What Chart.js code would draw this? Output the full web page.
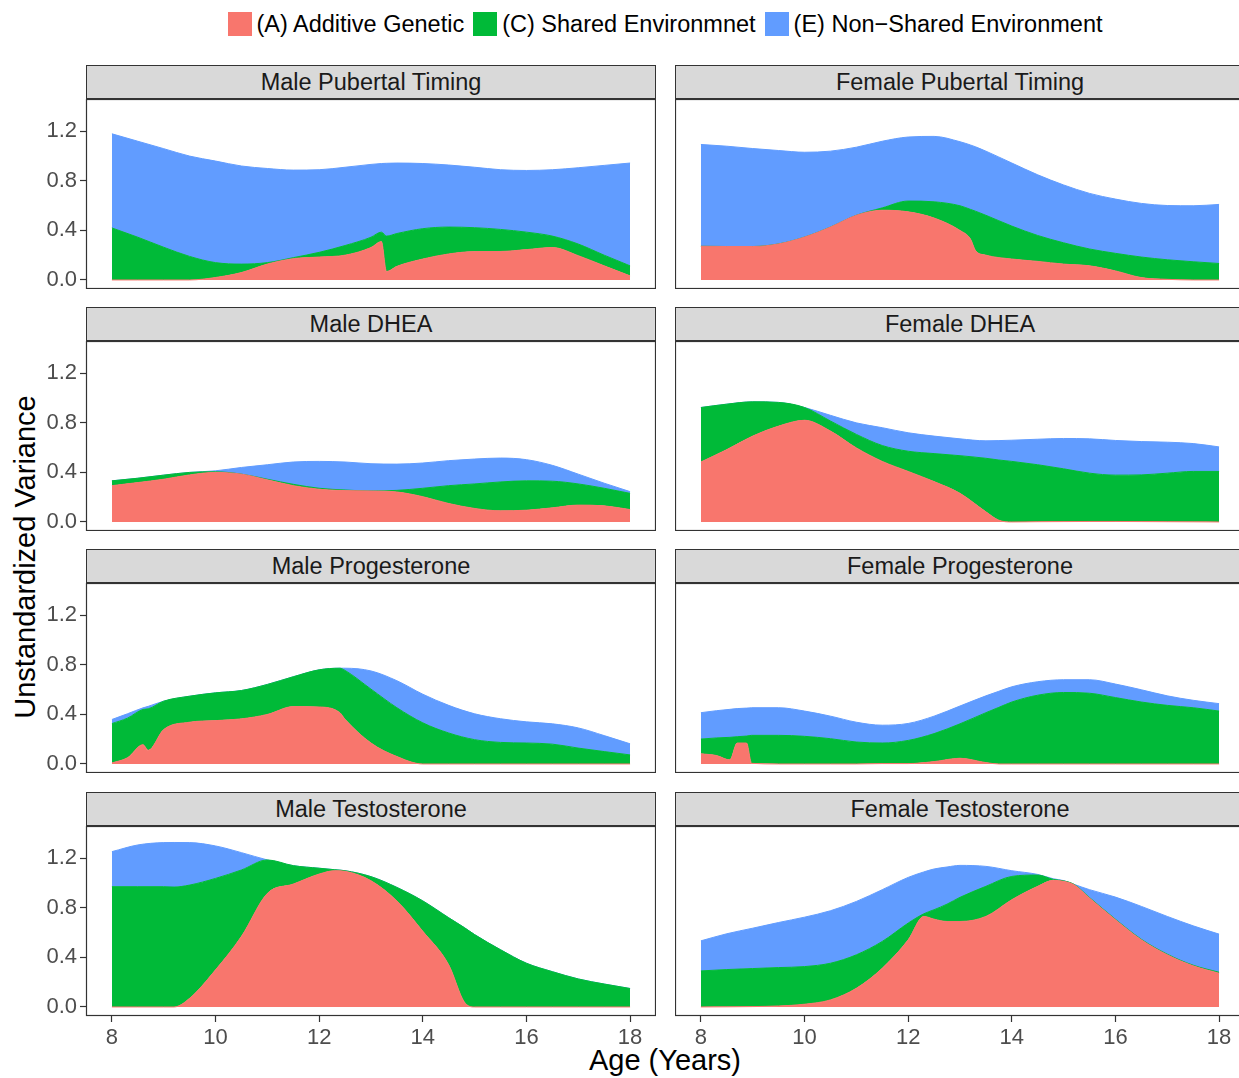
<!DOCTYPE html>
<html>
<head>
<meta charset="utf-8">
<script src="https://cdn.jsdelivr.net/npm/chart.js@4.4.1/dist/chart.umd.min.js"></script>
<style>
  body { margin: 0; width: 1239px; height: 1078px; overflow: hidden; background: #fff; position: relative;
         font-family: "Liberation Sans", Arial, Helvetica, sans-serif; }
  .box { position: absolute; }
  .strip { position: absolute; box-sizing: border-box; height: 34px; background: #d9d9d9; border: 1px solid #333;
           color: #1a1a1a; font-size: 23.5px; line-height: 32px; text-align: center; white-space: nowrap; overflow: hidden; }
  #legend { position: absolute; left: 0; top: 12px; width: 1339px; height: 24px; display: flex;
            justify-content: center; align-items: center; font-size: 23.5px; color: #000; white-space: nowrap; }
  #legend .key { width: 24px; height: 24px; margin-right: 5px; }
  #legend .lab { margin-right: 9px; }
  .title { position: absolute; font-size: 29px; color: #000; white-space: nowrap; }
</style>
</head>
<body>
<div id="legend"></div>
<div class="title" id="ytitle">Unstandardized Variance</div>
<div class="title" id="xtitle">Age (Years)</div>
<script>
// ---- data: variance components by age (A = additive genetic, C = shared env., E = non-shared env.)
const ages_malePT = [8, 8.5, 9, 9.5, 10, 10.5, 11, 11.5, 12, 12.5, 13, 13.2, 13.3, 13.5, 14, 14.5, 15, 15.5, 16, 16.5, 17, 17.5, 18];
const A_malePT = [0, 0, 0, 0, 0.02, 0.06, 0.128, 0.172, 0.185, 0.2, 0.262, 0.31, 0.068, 0.11, 0.169, 0.21, 0.229, 0.23, 0.245, 0.262, 0.196, 0.114, 0.033];
const C_malePT = [0.42, 0.345, 0.264, 0.19, 0.12, 0.068, 0.012, 0.008, 0.038, 0.078, 0.083, 0.076, 0.286, 0.265, 0.245, 0.217, 0.193, 0.178, 0.141, 0.092, 0.094, 0.086, 0.081];
const E_malePT = [0.76, 0.775, 0.796, 0.81, 0.82, 0.792, 0.76, 0.707, 0.667, 0.632, 0.588, 0.554, 0.588, 0.569, 0.526, 0.501, 0.488, 0.482, 0.498, 0.536, 0.616, 0.725, 0.83];

const ages_femalePT = [8, 8.5, 9, 9.5, 10, 10.5, 11, 11.5, 12, 12.5, 13, 13.2, 13.3, 13.5, 14, 14.5, 15, 15.5, 16, 16.5, 17, 17.5, 18];
const A_femalePT = [0.272, 0.27, 0.27, 0.291, 0.346, 0.427, 0.522, 0.563, 0.55, 0.5, 0.4, 0.332, 0.237, 0.2, 0.169, 0.15, 0.128, 0.114, 0.073, 0.019, 0.005, 0, 0];
const C_femalePT = [0, 0, 0, 0, 0, 0, 0, 0.019, 0.087, 0.131, 0.199, 0.238, 0.318, 0.322, 0.266, 0.209, 0.172, 0.136, 0.142, 0.166, 0.158, 0.147, 0.133];
const E_femalePT = [0.822, 0.81, 0.791, 0.754, 0.685, 0.613, 0.55, 0.538, 0.517, 0.528, 0.517, 0.52, 0.52, 0.518, 0.509, 0.49, 0.467, 0.449, 0.438, 0.433, 0.438, 0.452, 0.477];

const ages_maleDHEA = [8, 8.5, 9, 9.5, 10, 10.5, 11, 11.5, 12, 12.5, 13, 13.5, 14, 14.5, 15, 15.5, 16, 16.5, 17, 17.5, 18];
const A_maleDHEA = [0.293, 0.318, 0.345, 0.38, 0.4, 0.386, 0.34, 0.293, 0.264, 0.253, 0.25, 0.242, 0.204, 0.149, 0.109, 0.09, 0.095, 0.114, 0.136, 0.13, 0.1];
const C_maleDHEA = [0.039, 0.035, 0.033, 0.02, 0.005, 0, 0.005, 0.011, 0.008, 0.005, 0, 0.013, 0.068, 0.144, 0.198, 0.233, 0.237, 0.215, 0.171, 0.142, 0.131];
const E_maleDHEA = [0, 0, 0, 0, 0.008, 0.054, 0.117, 0.18, 0.217, 0.226, 0.22, 0.212, 0.204, 0.202, 0.201, 0.193, 0.171, 0.128, 0.079, 0.041, 0.014];

const ages_femaleDHEA = [8, 8.5, 9, 9.5, 10, 10.5, 11, 11.5, 12, 12.5, 13, 13.5, 13.75, 14, 14.5, 15, 15.5, 16, 16.5, 17, 17.5, 18];
const A_femaleDHEA = [0.484, 0.584, 0.693, 0.774, 0.821, 0.734, 0.598, 0.489, 0.408, 0.326, 0.231, 0.082, 0.014, 0, 0.002, 0.003, 0.004, 0.004, 0.003, 0.002, 0.001, 0];
const C_femaleDHEA = [0.44, 0.367, 0.277, 0.191, 0.103, 0.081, 0.109, 0.128, 0.163, 0.226, 0.304, 0.432, 0.486, 0.489, 0.46, 0.426, 0.39, 0.374, 0.377, 0.392, 0.407, 0.408];
const E_femaleDHEA = [0, 0, 0, 0, 0, 0.046, 0.093, 0.144, 0.149, 0.141, 0.136, 0.141, 0.157, 0.171, 0.206, 0.245, 0.277, 0.28, 0.269, 0.25, 0.225, 0.198];

const ages_maleProg = [8, 8.3, 8.6, 8.7, 9, 9.5, 10, 10.5, 11, 11.5, 12, 12.4, 12.5, 13, 13.5, 14, 14.5, 15, 15.5, 16, 16.5, 17, 17.5, 18];
const A_maleProg = [0.008, 0.05, 0.156, 0.11, 0.278, 0.337, 0.35, 0.364, 0.4, 0.463, 0.46, 0.414, 0.36, 0.169, 0.06, 0, 0, 0, 0, 0, 0, 0, 0, 0];
const C_maleProg = [0.318, 0.32, 0.284, 0.335, 0.229, 0.21, 0.224, 0.229, 0.242, 0.241, 0.3, 0.359, 0.395, 0.435, 0.394, 0.332, 0.25, 0.196, 0.174, 0.169, 0.16, 0.128, 0.1, 0.073];
const E_maleProg = [0.033, 0.035, 0.013, 0.02, 0, 0, 0, 0, 0, 0, 0, 0, 0.018, 0.147, 0.218, 0.231, 0.223, 0.209, 0.191, 0.171, 0.164, 0.163, 0.129, 0.09];

const ages_femaleProg = [8, 8.3, 8.56, 8.7, 8.88, 8.98, 9.5, 10, 10.5, 11, 11.5, 12, 12.5, 13, 13.5, 13.75, 14, 14.5, 15, 15.5, 16, 16.5, 17, 17.5, 18];
const A_femaleProg = [0.082, 0.068, 0.033, 0.169, 0.169, 0.005, 0, 0, 0, 0, 0.003, 0.003, 0.019, 0.046, 0.011, 0, 0, 0, 0, 0, 0, 0, 0, 0, 0];
const C_femaleProg = [0.119, 0.142, 0.182, 0.051, 0.056, 0.226, 0.231, 0.223, 0.204, 0.177, 0.166, 0.187, 0.226, 0.278, 0.403, 0.457, 0.5, 0.555, 0.577, 0.571, 0.536, 0.5, 0.473, 0.454, 0.427];
const E_femaleProg = [0.213, 0.22, 0.226, 0.227, 0.226, 0.223, 0.223, 0.204, 0.182, 0.16, 0.144, 0.137, 0.141, 0.144, 0.136, 0.13, 0.123, 0.109, 0.103, 0.109, 0.109, 0.099, 0.077, 0.06, 0.06];

const ages_maleTest = [8, 8.5, 9, 9.2, 9.5, 10, 10.5, 11, 11.5, 12, 12.3, 12.5, 13, 13.5, 14, 14.5, 14.8, 15, 15.5, 16, 16.5, 17, 17.5, 18];
const A_maleTest = [0, 0, 0, 0, 0.07, 0.3, 0.57, 0.917, 0.992, 1.073, 1.1, 1.095, 1.019, 0.856, 0.611, 0.34, 0.041, 0, 0, 0, 0, 0, 0, 0];
const C_maleTest = [0.971, 0.971, 0.971, 0.968, 0.914, 0.738, 0.536, 0.27, 0.149, 0.047, 0.008, 0.005, 0.033, 0.109, 0.245, 0.38, 0.6, 0.584, 0.462, 0.353, 0.285, 0.226, 0.185, 0.149];
const E_maleTest = [0.283, 0.337, 0.356, 0.36, 0.343, 0.262, 0.14, 0, 0, 0, 0, 0, 0, 0, 0, 0, 0, 0, 0, 0, 0, 0, 0, 0];

const ages_femaleTest = [8, 8.5, 9, 9.5, 10, 10.5, 11, 11.5, 12, 12.3, 12.5, 12.75, 13, 13.5, 14, 14.5, 14.8, 15, 15.2, 15.5, 16, 16.5, 17, 17.5, 18];
const A_femaleTest = [0, 0.001, 0.003, 0.008, 0.022, 0.057, 0.151, 0.313, 0.542, 0.731, 0.709, 0.69, 0.69, 0.731, 0.866, 0.974, 1.022, 1.014, 0.987, 0.879, 0.704, 0.542, 0.421, 0.332, 0.272];
const C_femaleTest = [0.291, 0.301, 0.307, 0.31, 0.304, 0.296, 0.27, 0.216, 0.135, 0.021, 0.076, 0.14, 0.195, 0.243, 0.188, 0.091, 0.008, 0.004, 0.003, 0.004, 0.004, 0.004, 0.005, 0.005, 0.008];
const E_femaleTest = [0.243, 0.289, 0.326, 0.364, 0.399, 0.424, 0.431, 0.418, 0.369, 0.338, 0.329, 0.3, 0.258, 0.161, 0.046, 0.005, 0.005, 0.002, 0, 0.064, 0.179, 0.266, 0.305, 0.318, 0.308];

const componentNames = ['(A) Additive Genetic', '(C) Shared Environmnet', '(E) Non\u2212Shared Environment'];
const componentColors = ['#F8766D', '#00BA38', '#619CFF'];
const yTicks = [0, 0.4, 0.8, 1.2];
const xTicks = [8, 10, 12, 14, 16, 18];

// panels in facet order, row by row (left = male, right = female)
const panels = [
  ['Male Pubertal Timing', ages_malePT, A_malePT, C_malePT, E_malePT],
  ['Female Pubertal Timing', ages_femalePT, A_femalePT, C_femalePT, E_femalePT],
  ['Male DHEA', ages_maleDHEA, A_maleDHEA, C_maleDHEA, E_maleDHEA],
  ['Female DHEA', ages_femaleDHEA, A_femaleDHEA, C_femaleDHEA, E_femaleDHEA],
  ['Male Progesterone', ages_maleProg, A_maleProg, C_maleProg, E_maleProg],
  ['Female Progesterone', ages_femaleProg, A_femaleProg, C_femaleProg, E_femaleProg],
  ['Male Testosterone', ages_maleTest, A_maleTest, C_maleTest, E_maleTest],
  ['Female Testosterone', ages_femaleTest, A_femaleTest, C_femaleTest, E_femaleTest]
];

// ---- layout (px)
const COL_X = [86, 675];
const ROW_Y = [99, 341, 583, 826];
const PANEL_W = 570, PANEL_H = 190, STRIP_H = 34;
const AXIS_W = 60, AXIS_H = 36;
const FONT = '"Liberation Sans", Arial, Helvetica, sans-serif';

Chart.defaults.font.family = FONT;

// legend
const legend = document.getElementById('legend');
componentNames.forEach((name, i) => {
  const k = document.createElement('div');
  k.className = 'key';
  k.style.background = componentColors[i];
  const t = document.createElement('div');
  t.className = 'lab';
  t.textContent = name;
  legend.appendChild(k);
  legend.appendChild(t);
});

// axis titles
const yt = document.getElementById('ytitle');
yt.style.left = '25px';
yt.style.top = '557px';
yt.style.transform = 'translate(-50%, -50%) rotate(-90deg)';
const xt = document.getElementById('xtitle');
xt.style.left = '665px';
xt.style.top = '1060px';
xt.style.transform = 'translate(-50%, -50%)';

const frame = {
  id: 'frame',
  afterDraw(chart) {
    const { ctx, chartArea: a } = chart;
    ctx.save();
    ctx.strokeStyle = '#333';
    ctx.lineWidth = 1.2;
    ctx.strokeRect(a.left + 0.5, a.top + 0.5, a.right - a.left - 1, a.bottom - a.top - 1);
    ctx.restore();
  }
};

panels.forEach((p, idx) => {
  const [title, ages, A, C, E] = p;
  const row = Math.floor(idx / 2), col = idx % 2;
  const showY = col === 0, showX = row === 3;

  const strip = document.createElement('div');
  strip.className = 'strip';
  strip.style.left = COL_X[col] + 'px';
  strip.style.top = (ROW_Y[row] - STRIP_H) + 'px';
  strip.style.width = PANEL_W + 'px';
  strip.textContent = title;
  document.body.appendChild(strip);

  const w = PANEL_W + (showY ? AXIS_W : 0);
  const h = PANEL_H + (showX ? AXIS_H : 0);
  const box = document.createElement('div');
  box.className = 'box';
  box.style.left = (COL_X[col] - (showY ? AXIS_W : 0)) + 'px';
  box.style.top = ROW_Y[row] + 'px';
  box.style.width = w + 'px';
  box.style.height = h + 'px';
  const cv = document.createElement('canvas');
  cv.width = w;
  cv.height = h;
  box.appendChild(cv);
  document.body.appendChild(box);

  const series = [A, C, E].map((vals, i) => ({
    label: componentNames[i],
    data: ages.map((x, j) => ({ x: x, y: vals[j] })),
    backgroundColor: componentColors[i],
    borderColor: componentColors[i],
    borderWidth: 1,
    pointRadius: 0,
    fill: i === 0 ? 'origin' : '-1'
  }));

  new Chart(cv, {
    type: 'line',
    data: { datasets: series },
    plugins: [frame],
    options: {
      responsive: false,
      maintainAspectRatio: false,
      animation: false,
      devicePixelRatio: 1,
      layout: { padding: 0 },
      elements: { line: { cubicInterpolationMode: 'monotone' } },
      plugins: { legend: { display: false }, tooltip: { enabled: false } },
      scales: {
        x: {
          type: 'linear',
          min: 7.5,
          max: 18.5,
          display: showX,
          afterBuildTicks: s => { s.ticks = xTicks.map(v => ({ value: v })); },
          afterFit: s => {
            if (!showX) return;
            s.height = AXIS_H; s.paddingLeft = 0; s.paddingRight = 0;
          },
          border: { display: false },
          grid: { drawOnChartArea: false, drawTicks: true, tickLength: 6, tickColor: '#333', tickWidth: 1.2 },
          ticks: { color: '#4D4D4D', font: { size: 22 }, padding: 3, maxRotation: 0,
                   callback: v => String(v) }
        },
        y: {
          stacked: true,
          min: -0.073,
          max: 1.461,
          display: showY,
          afterBuildTicks: s => { s.ticks = yTicks.map(v => ({ value: v })); },
          afterFit: s => {
            if (!showY) return;
            s.width = AXIS_W; s.paddingTop = 0; s.paddingBottom = 0;
          },
          border: { display: false },
          grid: { drawOnChartArea: false, drawTicks: true, tickLength: 6, tickColor: '#333', tickWidth: 1.2 },
          ticks: { color: '#4D4D4D', font: { size: 22 }, padding: 3,
                   callback: v => Number(v).toFixed(1) }
        }
      }
    }
  });
});
</script>
</body>
</html>
